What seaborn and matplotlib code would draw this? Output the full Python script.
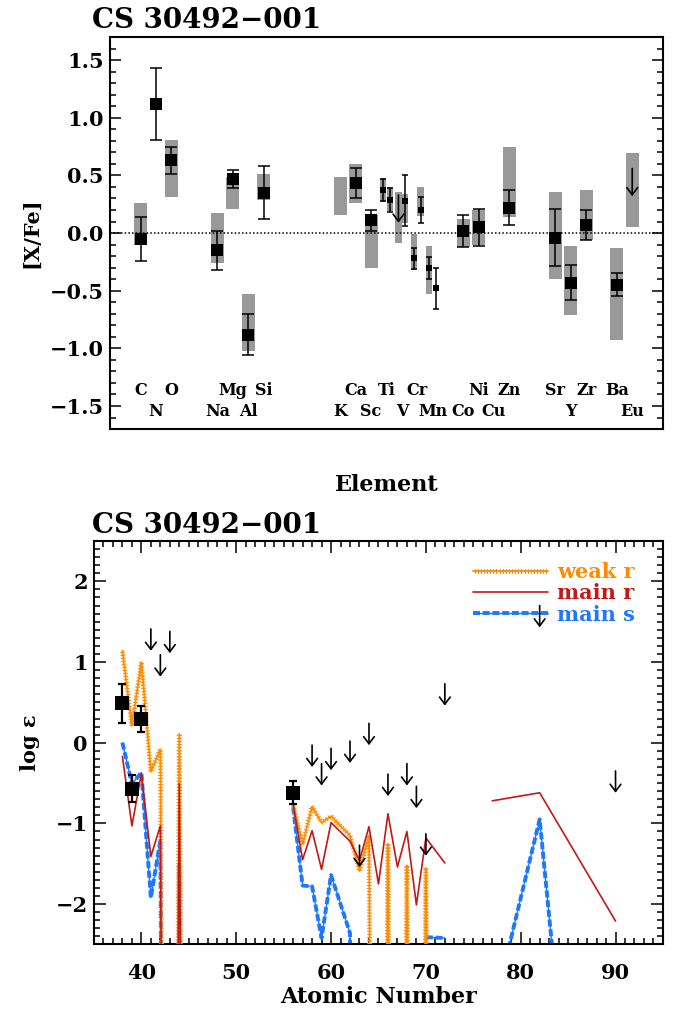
import numpy as np
import pandas as pd
import matplotlib
matplotlib.use("Agg")
import matplotlib.pyplot as plt
import matplotlib.patheffects as pe
from matplotlib.lines import Line2D
from matplotlib.legend_handler import HandlerTuple
from matplotlib.ticker import MultipleLocator, FuncFormatter
import seaborn as sns

# ---------------- upper panel: [X/Fe] per element ----------------
elements = ["C", "N", "O", "Na", "Mg", "Al", "Si", "K", "Ca", "Sc", "Ti", "V",
            "Cr", "Mn", "Co", "Ni", "Cu", "Zn", "Sr", "Y", "Zr", "Ba", "Eu"]
element_slot = [0, 1, 2, 5, 6, 7, 8, 13, 14, 15, 16, 17, 18, 19, 21, 22, 23, 24,
                27, 28, 29, 31, 32]
element_z = [6, 7, 8, 11, 12, 13, 14, 19, 20, 21, 22, 23, 24, 25, 27, 28, 29, 30,
             38, 39, 40, 56, 63]

# measured species (side: -1 neutral, +1 ionised when both are shown)
species = ["C", "N", "O", "Na", "Mg", "Al", "Si", "Ca", "Sc", "Ti I", "Ti II",
           "V II", "Cr I", "Cr II", "Mn I", "Mn II", "Co", "Ni", "Zn", "Sr", "Y",
           "Zr", "Ba"]
species_slot = [0, 1, 2, 5, 6, 7, 8, 14, 15, 16, 16, 17, 18, 18, 19, 19, 21, 22,
                24, 27, 28, 29, 31]
species_side = [0, 0, 0, 0, 0, 0, 0, 0, 0, -1, 1, 1, -1, 1, -1, 1, 0, 0, 0, 0,
                0, 0, 0]
xfe = [-0.05, 1.12, 0.63, -0.15, 0.47, -0.88, 0.35, 0.43, 0.11, 0.37, 0.29,
       0.28, -0.22, 0.20, -0.30, -0.48, 0.02, 0.05, 0.22, -0.04, -0.43, 0.07,
       -0.45]
xfe_err = [0.19, 0.31, 0.12, 0.17, 0.08, 0.18, 0.23, 0.13, 0.09, 0.095, 0.105,
           0.22, 0.09, 0.11, 0.095, 0.18, 0.14, 0.16, 0.15, 0.245, 0.15, 0.13,
           0.10]

# spread of the comparison sample
band_species = ["C", "O", "Na", "Mg", "Al", "Si", "K", "Ca", "Sc", "Ti I",
                "Ti II", "V I", "V II", "Cr I", "Cr II", "Mn I", "Co", "Ni",
                "Zn", "Sr", "Y", "Zr", "Ba", "Eu"]
band_slot = [0, 2, 5, 6, 7, 8, 13, 14, 15, 16, 16, 17, 17, 18, 18, 19, 21, 22,
             24, 27, 28, 29, 31, 32]
band_side = [0, 0, 0, 0, 0, 0, 0, 0, 0, -1, 1, -1, 1, -1, 1, -1, 0, 0, 0, 0, 0,
             0, 0, 0]
band_low = [-0.10, 0.31, -0.26, 0.21, -1.02, 0.29, 0.16, 0.26, -0.30, 0.27,
            0.19, -0.09, 0.09, -0.32, 0.15, -0.53, -0.12, -0.10, 0.14, -0.40,
            -0.71, -0.06, -0.93, 0.05]
band_high = [0.26, 0.81, 0.17, 0.49, -0.53, 0.51, 0.49, 0.60, 0.16, 0.48, 0.40,
             0.36, 0.34, -0.01, 0.40, -0.11, 0.12, 0.20, 0.75, 0.36, -0.11, 0.37,
             -0.13, 0.69]

# upper limits
limit_species = ["V I", "Eu"]
limit_slot = [17, 32]
limit_side = [-1, 0]
limit_xfe = [0.33, 0.56]

# ---------------- lower panel: log eps vs atomic number ----------------
obs_z = [38, 39, 40, 56]
obs_logeps = [0.49, -0.57, 0.29, -0.62]
obs_err = [0.24, 0.17, 0.16, 0.145]

ulim_z = [41, 42, 43, 58, 59, 60, 62, 63, 64, 66, 68, 69, 70, 72, 82, 90]
ulim_logeps = [1.41, 1.09, 1.38, -0.03, -0.26, -0.07, 0.02, -1.27, 0.24, -0.39,
               -0.26, -0.54, -1.13, 0.73, 1.70, -0.35]

nan = np.nan
weak_r_z = [38, 39, 40, 41, 42, 43, 44, 45, nan,
            56, 57, 58, 59, 60, 62, 63, 64, 65, 66, 67, 68, 69, 70, 71]
weak_r = [1.14, 0.21, 1.00, -0.36, -0.08, -20, 0.11, -20, nan,
          -0.76, -1.26, -0.79, -0.99, -0.91, -1.15, -1.59, -1.15, -20, -1.25,
          -20, -1.52, -20, -1.55, -20]

main_r_z = [38, 39, 40, 41, 42, 43, 44, 45, nan,
            56, 57, 58, 59, 60, 62, 63, 64, 65, 66, 67, 68, 69, 70, 72, nan,
            77, 82, 90]
main_r = [-0.17, -1.03, -0.38, -1.41, -1.03, -20, -0.51, -20, nan,
          -0.76, -1.45, -1.09, -1.57, -0.99, -1.22, -1.46, -1.04, -1.75, -0.88,
          -1.54, -1.10, -2.01, -1.18, -1.49, nan,
          -0.72, -0.62, -2.21]

main_s_z = [38, 39, 40, 41, 42, 43, 44, 45, nan,
            56, 57, 58, 59, 60, 62, 63, nan,
            70, 72, nan,
            78, 82, 83, 84]
main_s = [0.00, -0.51, -0.37, -1.92, -1.21, -20, -1.52, -20, nan,
          -0.80, -1.77, -1.78, -2.42, -1.64, -2.36, -20, nan,
          -2.41, -2.42, nan,
          -2.90, -0.95, -2.15, -3.35]

# ---------------- style ----------------
sns.set_theme(style="ticks")
plt.rcParams.update({
    "font.family": ["DejaVu Serif"],
    "font.weight": "bold",
    "axes.labelweight": "bold",
    "axes.edgecolor": "black",
    "axes.linewidth": 1.5,
    "xtick.color": "black",
    "ytick.color": "black",
    "text.color": "black",
    "axes.labelcolor": "black",
})

GRAY = "#999999"
ORANGE = "#FF8C00"
RED = "#C41818"
BLUE = "#1E78FF"
SIDE = 0.22
TITLE = "CS 30492\u2212001"


def minus_fmt(fmt):
    return FuncFormatter(lambda v, pos: fmt.format(v).replace("-", "\u2212"))


fig = plt.figure(figsize=(6.78, 10.15), dpi=100)
ax1 = fig.add_axes([0.1622, 0.5773, 0.8156, 0.3862])
ax2 = fig.add_axes([0.1386, 0.0695, 0.8392, 0.3975])

# ---- upper panel ----
bands = pd.DataFrame({"slot": band_slot, "side": band_side,
                      "low": band_low, "high": band_high})
bands["x"] = bands["slot"] + SIDE * bands["side"]
bands["w"] = np.where(bands["side"] == 0, 0.85, 0.42)
ax1.bar(bands["x"], bands["high"] - bands["low"], bottom=bands["low"],
        width=bands["w"], color=GRAY, linewidth=0, zorder=1)

ax1.axhline(0, color="black", lw=1.1, ls=(0, (1, 1.4)), zorder=2)

meas = pd.DataFrame({"species": species, "slot": species_slot,
                     "side": species_side, "xfe": xfe, "err": xfe_err})
meas["x"] = meas["slot"] + SIDE * meas["side"]
big = meas[meas["side"] == 0]
small = meas[meas["side"] != 0]

ax1.errorbar(big["x"], big["xfe"], yerr=big["err"], fmt="none", ecolor="black",
             elinewidth=1.1, capsize=4.0, capthick=1.1, zorder=3)
ax1.errorbar(small["x"], small["xfe"], yerr=small["err"], fmt="none",
             ecolor="black", elinewidth=1.1, capsize=2.2, capthick=1.1, zorder=3)
sns.scatterplot(data=big, x="x", y="xfe", marker="s", s=75, color="black",
                linewidth=0, legend=False, ax=ax1, zorder=4)
sns.scatterplot(data=small, x="x", y="xfe", marker="s", s=20, color="black",
                linewidth=0, legend=False, ax=ax1, zorder=4)

ARROW = "->,head_length=0.32,head_width=0.24"
for slot, side, val in zip(limit_slot, limit_side, limit_xfe):
    x = slot + SIDE * side
    ax1.annotate("", xy=(x, val - 0.24), xytext=(x, val),
                 arrowprops=dict(arrowstyle=ARROW, lw=1.2, color="black",
                                 shrinkA=0, shrinkB=0, mutation_scale=16),
                 zorder=5)

for name, slot, z in zip(elements, element_slot, element_z):
    y = -1.37 if z % 2 == 0 else -1.55
    ax1.text(slot, y, name, ha="center", va="center", fontsize=11.5,
             fontweight="bold")

ax1.set_xlim(-2, 34)
ax1.set_ylim(-1.7, 1.7)
ax1.yaxis.set_major_locator(MultipleLocator(0.5))
ax1.yaxis.set_minor_locator(MultipleLocator(0.1))
ax1.yaxis.set_major_formatter(minus_fmt("{:.1f}"))
ax1.tick_params(axis="x", which="both", bottom=False, top=False,
                labelbottom=False)
ax1.tick_params(axis="y", which="both", direction="in", left=True, right=True,
                labelsize=15, pad=4.5)
ax1.tick_params(axis="y", which="major", length=8, width=1.1)
ax1.tick_params(axis="y", which="minor", length=4.3, width=1.1)
ax1.set_xlabel("Element", fontsize=16, fontweight="bold")
ax1.xaxis.set_label_coords(0.5, -0.115)
ax1.set_ylabel("[X/Fe]", fontsize=15, fontweight="bold")
ax1.yaxis.set_label_coords(-0.125, 0.5)


# ---- lower panel ----
def segments(z, v):
    z = np.asarray(z, float)
    v = np.asarray(v, float)
    seg = np.cumsum(np.isnan(z))
    return pd.DataFrame({"Z": z, "logeps": v, "seg": seg}).dropna()


ticked = [pe.Stroke(),
          pe.TickedStroke(angle=90, spacing=2.2, length=0.65, linewidth=0.85),
          pe.TickedStroke(angle=-90, spacing=2.2, length=0.65, linewidth=0.85)]

sns.lineplot(data=segments(weak_r_z, weak_r), x="Z", y="logeps", units="seg",
             estimator=None, sort=False, color=ORANGE, lw=1.3,
             path_effects=ticked, legend=False, ax=ax2, zorder=3)
sns.lineplot(data=segments(main_r_z, main_r), x="Z", y="logeps", units="seg",
             estimator=None, sort=False, color=RED, lw=1.2, legend=False,
             ax=ax2, zorder=3)
s_df = segments(main_s_z, main_s)
sns.lineplot(data=s_df, x="Z", y="logeps", units="seg", estimator=None,
             sort=False, color=BLUE, lw=1.0, legend=False, ax=ax2, zorder=2)
sns.lineplot(data=s_df, x="Z", y="logeps", units="seg", estimator=None,
             sort=False, color=BLUE, lw=2.8, linestyle=(0, (1.8, 0.7)),
             dash_capstyle="butt", legend=False, ax=ax2, zorder=2)

ax2.errorbar(obs_z, obs_logeps, yerr=obs_err, fmt="none", ecolor="black",
             elinewidth=1.6, capsize=2.6, capthick=1.6, zorder=4)
sns.scatterplot(x=obs_z, y=obs_logeps, marker="s", s=88, color="black",
                linewidth=0, legend=False, ax=ax2, zorder=5)

for z, val in zip(ulim_z, ulim_logeps):
    ax2.annotate("", xy=(z, val - 0.27), xytext=(z, val),
                 arrowprops=dict(arrowstyle=ARROW, lw=1.2, color="black",
                                 shrinkA=0, shrinkB=0, mutation_scale=16),
                 zorder=6)

ax2.set_xlim(35, 95)
ax2.set_ylim(-2.5, 2.5)
ax2.xaxis.set_major_locator(MultipleLocator(10))
ax2.xaxis.set_minor_locator(MultipleLocator(1))
ax2.yaxis.set_major_locator(MultipleLocator(1))
ax2.yaxis.set_minor_locator(MultipleLocator(0.1))
ax2.yaxis.set_major_formatter(minus_fmt("{:.0f}"))
ax2.tick_params(which="both", direction="in", top=True, right=True,
                bottom=True, left=True, labelsize=15)
ax2.tick_params(which="major", length=8.6, width=1.1)
ax2.tick_params(which="minor", length=4.3, width=1.1)
ax2.tick_params(axis="x", pad=13)
ax2.tick_params(axis="y", pad=4.5)
ax2.set_xlabel("Atomic Number", fontsize=16, fontweight="bold")
ax2.xaxis.set_label_coords(0.5, -0.104)
ax2.set_ylabel("log \u03b5", fontsize=15, fontweight="bold")
ax2.yaxis.set_label_coords(-0.095, 0.5)

h_weak = Line2D([], [], color=ORANGE, lw=1.3, path_effects=ticked)
h_main_r = Line2D([], [], color=RED, lw=1.2)
h_s_thin = Line2D([], [], color=BLUE, lw=1.0)
h_s_thick = Line2D([], [], color=BLUE, lw=2.8, linestyle=(0, (1.8, 0.7)),
                   dash_capstyle="butt")
ax2.legend([h_weak, h_main_r, (h_s_thin, h_s_thick)],
           ["weak r", "main r", "main s"],
           handler_map={tuple: HandlerTuple(ndivide=1, pad=0)},
           loc="upper right", bbox_to_anchor=(0.966, 0.969), borderaxespad=0,
           frameon=False, handlelength=3.6, handletextpad=0.45,
           labelspacing=0.07, labelcolor=[ORANGE, RED, BLUE],
           prop={"family": "DejaVu Serif", "weight": "bold", "size": 15})

for ax in (ax1, ax2):
    for sp in ax.spines.values():
        sp.set_linewidth(1.5)
        sp.set_color("black")

fig.text(92 / 678, 1 - 28 / 1015, TITLE, fontsize=20, fontweight="bold",
         ha="left", va="baseline")
fig.text(92 / 678, 1 - 533 / 1015, TITLE, fontsize=20, fontweight="bold",
         ha="left", va="baseline")

fig.savefig("out.png", dpi=100)
